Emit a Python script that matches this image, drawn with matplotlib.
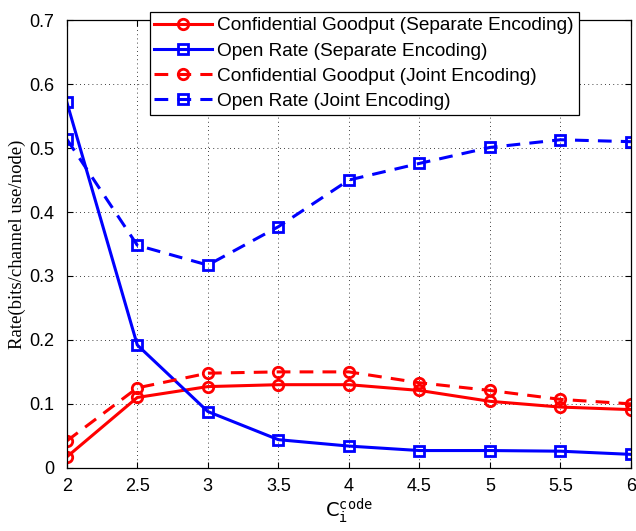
import matplotlib
matplotlib.use("Agg")
import matplotlib.pyplot as plt

# values
c_code = [2, 2.5, 3, 3.5, 4, 4.5, 5, 5.5, 6]
conf_sep = [0.017, 0.110, 0.127, 0.130, 0.130, 0.121, 0.104, 0.095, 0.091]
open_sep = [0.572, 0.192, 0.088, 0.044, 0.034, 0.027, 0.027, 0.026, 0.021]
conf_joint = [0.042, 0.125, 0.148, 0.150, 0.150, 0.133, 0.121, 0.107, 0.100]
open_joint = [0.514, 0.348, 0.317, 0.377, 0.450, 0.476, 0.501, 0.513, 0.510]

labels = ["Confidential Goodput (Separate Encoding)",
          "Open Rate (Separate Encoding)",
          "Confidential Goodput (Joint Encoding)",
          "Open Rate (Joint Encoding)"]

plt.rcParams['font.family'] = ['Liberation Sans', 'DejaVu Sans']
plt.rcParams['mathtext.fontset'] = 'dejavusans'

fig = plt.figure(figsize=(6.36, 5.31), dpi=100)
ax = fig.add_axes([0.105, 0.119, 0.887, 0.843])

dash = (0, (4.5, 3))
circ = dict(linewidth=2.2, marker='o', markersize=7.5, markeredgewidth=2, markerfacecolor='none')
sq = dict(linewidth=2.2, marker='s', markersize=6.8, markeredgewidth=2, markerfacecolor='none')
ax.plot(c_code, conf_sep, '-', color='#ff0000', label=labels[0], **circ)
ax.plot(c_code, open_sep, '-', color='#0000ff', label=labels[1], **sq)
ax.plot(c_code, conf_joint, linestyle=dash, color='#ff0000', label=labels[2], **circ)
ax.plot(c_code, open_joint, linestyle=dash, color='#0000ff', label=labels[3], **sq)

ax.set_xlim(2, 6)
ax.set_ylim(0, 0.7)
ax.set_xticks(c_code)
ax.set_xticklabels(["2", "2.5", "3", "3.5", "4", "4.5", "5", "5.5", "6"])
ax.set_yticks([0, 0.1, 0.2, 0.3, 0.4, 0.5, 0.6, 0.7])
ax.set_yticklabels(["0", "0.1", "0.2", "0.3", "0.4", "0.5", "0.6", "0.7"])
ax.tick_params(direction='in', top=True, right=True, labelsize=13, length=4, width=0.8)
ax.tick_params(axis='y', pad=9)
ax.tick_params(axis='x', pad=7)
ax.grid(True, linestyle=(0, (1, 4)), color='black', linewidth=0.6)
for sp in ax.spines.values():
    sp.set_linewidth(0.9)

ax.set_ylabel("Rate(bits/channel use/node)", family='Liberation Serif', fontsize=13.5, labelpad=2)
ax.set_xlabel(r'$\mathrm{C}_{\mathtt{i}}^{\mathtt{code}}$', fontsize=14, labelpad=1)

leg = ax.legend(loc='upper left', bbox_to_anchor=(0.147, 1.018), fontsize=13.7,
                frameon=True, fancybox=False, edgecolor='black', framealpha=1,
                handlelength=3.0, borderpad=0.25, labelspacing=0.42,
                handletextpad=0.3, borderaxespad=0)
leg.get_frame().set_linewidth(0.9)

fig.savefig("out.png", dpi=100)
